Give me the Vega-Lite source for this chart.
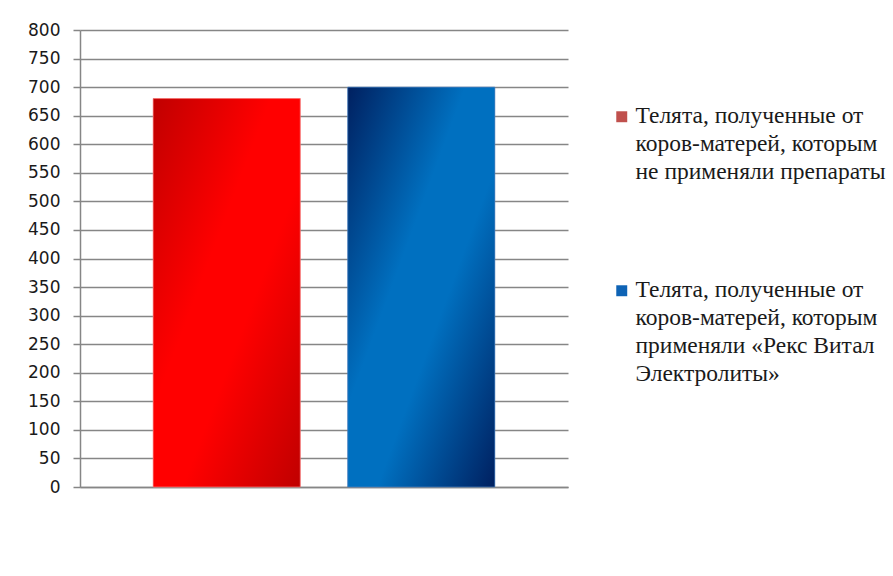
{
  "$schema": "https://vega.github.io/schema/vega-lite/v6.json",
  "autosize": {"type": "none"},
  "width": 488,
  "height": 457,
  "padding": {"left": 80, "top": 30, "right": 325, "bottom": 89},
  "background": "white",
  "config": {
    "view": {"stroke": null}
  },
  "data": {
    "values": [
      {"series": "Телята, полученные от коров-матерей, которым не применяли препараты", "value": 680},
      {"series": "Телята, полученные от коров-матерей, которым применяли «Рекс Витал Электролиты»", "value": 700}
    ]
  },
  "encoding": {
    "x": {
      "field": "series",
      "type": "nominal",
      "sort": null,
      "scale": {"paddingInner": 0.244, "paddingOuter": 0.376},
      "axis": {
        "title": null,
        "labels": false,
        "ticks": false,
        "domainColor": "#868686",
        "domainWidth": 1.5
      }
    },
    "y": {
      "field": "value",
      "type": "quantitative",
      "scale": {"domain": [0, 800], "nice": false},
      "axis": {
        "title": null,
        "values": [0, 50, 100, 150, 200, 250, 300, 350, 400, 450, 500, 550, 600, 650, 700, 750, 800],
        "tickSize": 7,
        "tickColor": "#868686",
        "tickWidth": 1.5,
        "domainColor": "#868686",
        "domainWidth": 1.5,
        "gridColor": "#868686",
        "gridWidth": 1.5,
        "labelFont": "DejaVu Sans",
        "labelFontSize": 17,
        "labelColor": "#1a1a1a",
        "labelPadding": 13
      }
    }
  },
  "layer": [
    {
      "mark": {"type": "bar"},
      "encoding": {
        "color": {
          "field": "series",
          "type": "nominal",
          "sort": null,
          "scale": {"range": ["#C0504D", "#0E63B5"]},
          "legend": {
            "orient": "none",
            "legendX": 530,
            "legendY": 75,
            "title": null,
            "symbolType": "square",
            "symbolSize": 120,
            "symbolStrokeWidth": 0,
            "labelFont": "Liberation Serif",
            "labelFontSize": 23.5,
            "labelColor": "#1a1a1a",
            "labelLimit": 400,
            "labelOffset": 2,
            "rowPadding": 93,
            "labelBaseline": "top",
            "labelExpr": "indexof(datum.label, 'не применяли') >= 0 ? ['Телята, полученные от', 'коров-матерей, которым', 'не применяли препараты'] : ['Телята, полученные от', 'коров-матерей, которым', 'применяли «Рекс Витал', 'Электролиты»']",
            "encoding": {
              "labels": {"lineHeight": {"value": 28}, "dy": {"value": -13}}
            }
          }
        }
      }
    },
    {
      "transform": [{"filter": "indexof(datum.series, 'не применяли') >= 0"}],
      "mark": {
        "type": "bar",
        "stroke": "#ff8080",
        "strokeWidth": 0.7,
        "fill": {
          "gradient": "linear",
          "x1": 0, "y1": 0, "x2": 1, "y2": 1,
          "stops": [
            {"offset": 0, "color": "#C00000"},
            {"offset": 0.4, "color": "#FF0000"},
            {"offset": 0.6, "color": "#FF0000"},
            {"offset": 1, "color": "#C00000"}
          ]
        }
      }
    },
    {
      "transform": [{"filter": "indexof(datum.series, 'Рекс') >= 0"}],
      "mark": {
        "type": "bar",
        "stroke": "#4f81bd",
        "strokeWidth": 0.7,
        "fill": {
          "gradient": "linear",
          "x1": 0, "y1": 0, "x2": 1, "y2": 1,
          "stops": [
            {"offset": 0, "color": "#002060"},
            {"offset": 0.4, "color": "#0070C0"},
            {"offset": 0.6, "color": "#0070C0"},
            {"offset": 1, "color": "#002060"}
          ]
        }
      }
    }
  ]
}
